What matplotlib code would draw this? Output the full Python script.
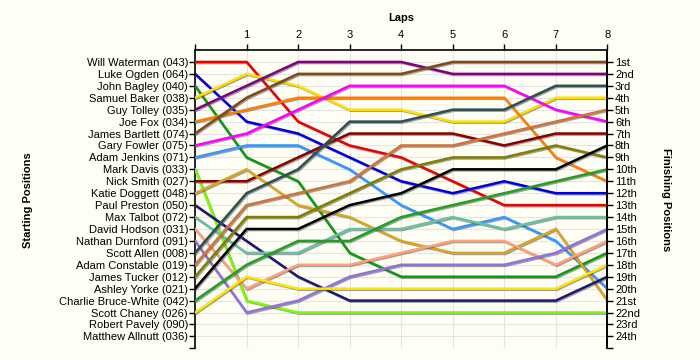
import matplotlib
matplotlib.use("Agg")
import matplotlib.pyplot as plt
import matplotlib.patheffects as pe

# Lap chart: race positions of each driver after every lap
plt.rcParams['font.family'] = ['Liberation Sans', 'DejaVu Sans']
plt.rcParams['font.size'] = 8

laps = [0, 1, 2, 3, 4, 5, 6, 7, 8]

drivers = [
    'Will Waterman (043)', 'Luke Ogden (064)', 'John Bagley (040)',
    'Samuel Baker (038)', 'Guy Tolley (035)', 'Joe Fox (034)',
    'James Bartlett (074)', 'Gary Fowler (075)', 'Adam Jenkins (071)',
    'Mark Davis (033)', 'Nick Smith (027)', 'Katie Doggett (048)',
    'Paul Preston (050)', 'Max Talbot (072)', 'David Hodson (031)',
    'Nathan Durnford (091)', 'Scott Allen (008)', 'Adam Constable (019)',
    'James Tucker (012)', 'Ashley Yorke (021)', 'Charlie Bruce-White (042)',
    'Scott Chaney (026)', 'Robert Pavely (090)', 'Matthew Allnutt (036)',
]

# position at lap 0..8 for each driver (None = no lap data)
positions = [
    [1, 1, 6, 8, 9, 11, 13, 13, 13],
    [2, 6, 7, 9, 11, 12, 11, 12, 12],
    [3, 9, 11, 17, 19, 19, 19, 19, 17],
    [4, 2, 3, 5, 5, 6, 6, 4, 4],
    [5, 3, 1, 1, 1, 2, 2, 2, 2],
    [6, 5, 4, 4, 4, 4, 4, 9, 11],
    [7, 4, 2, 2, 2, 1, 1, 1, 1],
    [8, 7, 5, 3, 3, 3, 3, 5, 6],
    [9, 8, 8, 10, 13, 15, 14, 16, 20],
    [10, 21, 22, 22, 22, 22, 22, 22, 22],
    [11, 11, 9, 7, 7, 7, 8, 7, 7],
    [12, 10, 13, 14, 16, 17, 17, 15, 21],
    [13, 16, 19, 21, 21, 21, 21, 21, 19],
    [14, 17, 17, 15, 15, 14, 15, 14, 14],
    [15, 20, 18, 18, 17, 16, 16, 18, 16],
    [16, 22, 21, 19, 18, 18, 18, 17, 15],
    [17, 12, 10, 6, 6, 5, 5, 3, 3],
    [18, 13, 12, 11, 8, 8, 7, 6, 5],
    [19, 14, 14, 12, 10, 9, 9, 8, 9],
    [20, 15, 15, 13, 12, 10, 10, 10, 8],
    [21, 18, 16, 16, 14, 13, 12, 11, 10],
    [22, 19, 20, 20, 20, 20, 20, 20, 18],
    None,
    None,
]

finish_labels = ['1st', '2nd', '3rd', '4th', '5th', '6th', '7th', '8th',
                 '9th', '10th', '11th', '12th', '13th', '14th', '15th',
                 '16th', '17th', '18th', '19th', '20th', '21st', '22nd',
                 '23rd', '24th']

colors = ['#EE0000', '#0000DD', '#119911', '#FFE000', '#800080', '#FF8000',
          '#7F4A1A', '#FF00FF', '#3399FF', '#7CFC00', '#880000', '#DAA520',
          '#1A1A6E', '#66C2A5', '#FFA07A', '#9370DB', '#2F4F4F', '#D2733A',
          '#808000', '#000000', '#22A022', '#FFE600', '#999999', '#999999']

bg = '#FFFEF4'
fig = plt.figure(figsize=(7, 3.6), dpi=100, facecolor=bg)
ax = fig.add_axes([0.2786, 0.0325, 0.589, 0.8286], facecolor=bg)

n = len(drivers)
ax.set_xlim(0, 8)
ax.set_ylim(n + 1, 0)

for name, pos, col in zip(drivers, positions, colors):
    if pos is None:
        continue
    ax.plot(laps, pos, color=col, lw=1.8, solid_joinstyle='miter', zorder=3,
            path_effects=[pe.SimpleLineShadow(offset=(0.8, -0.8), shadow_color='#555555', alpha=0.55),
                          pe.Normal()])

# grid
ax.set_xticks(laps)
ax.set_xticklabels([''] + [str(l) for l in laps[1:]])
ax.xaxis.tick_top()
ax.set_yticks(range(1, n + 2))
ax.set_yticklabels(drivers + [''])
for y in range(1, n + 1):
    ax.axhline(y, color='#E4E4E4', lw=0.8, zorder=1)
for x in laps[1:-1]:
    ax.axvline(x, color='#E4E4E4', lw=0.8, zorder=1)

ax.tick_params(axis='both', direction='out', length=4, width=1, colors='black')
ax.tick_params(axis='x', pad=3.5)
ax.tick_params(axis='y', pad=1)
ax.spines['bottom'].set_visible(False)
for s in ['left', 'top', 'right']:
    ax.spines[s].set_linewidth(1.2)

ax2 = ax.twinx()
ax2.set_ylim(n + 1, 0)
ax2.set_yticks(range(1, n + 2))
ax2.set_yticklabels(finish_labels + [''])
ax2.tick_params(axis='y', direction='out', length=4, width=1, pad=1.5)
ax2.spines['bottom'].set_visible(False)
ax2.spines['right'].set_linewidth(1.2)
ax2.spines['top'].set_visible(False)
ax2.spines['left'].set_visible(False)

fig.text(0.573, 1 - 18 / 360, 'Laps', ha='center', va='center', weight='bold')
fig.text(28 / 700, 1 - 200 / 360, 'Starting Positions', rotation=90,
         ha='center', va='center', weight='bold')
fig.text(666 / 700, 1 - 200 / 360, 'Finishing Positions', rotation=-90,
         ha='center', va='center', weight='bold')

fig.savefig('out.png', dpi=100, facecolor=bg)
